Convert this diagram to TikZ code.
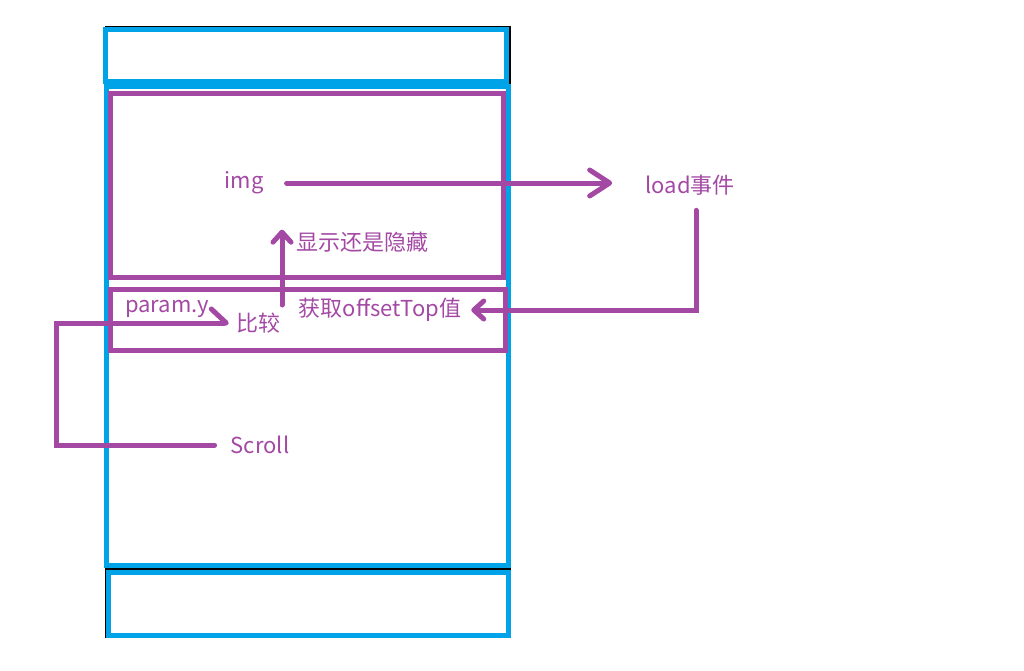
\documentclass[tikz,border=0pt]{standalone}
\usepackage{fontspec}
\setmainfont{Noto Sans CJK SC}
\usetikzlibrary{arrows.meta}
\definecolor{paintblue}{RGB}{0,162,232}
\definecolor{paintpurple}{RGB}{163,73,164}

\begin{document}
\begin{tikzpicture}[x=1pt,y=-1pt,
    frame/.style={draw=paintblue,line width=5pt},
    box/.style={draw=paintpurple,line width=5pt},
    flow/.style={paintpurple,line width=5pt,line cap=round},
    lbl/.style={text=paintpurple,font=\fontsize{22}{25}\selectfont,inner sep=2pt}]
  \useasboundingbox (0,0) rectangle (1024,671);
  % screen outline
  \draw[line width=1.5pt] (106,27) rectangle (510,637);
  \draw[line width=1.5pt] (106,569) -- (510,569);
  \draw[frame] (105.5,30) rectangle (506.5,82);
  \draw[frame] (106.5,86.5) rectangle (508.5,565.5);
  \draw[frame] (108.5,572.5) rectangle (508.5,635.5);
  \draw[box] (110,93.5) rectangle (503,277.5);
  \draw[box] (110.5,289.5) rectangle (505.5,350.5);
  % texts
  \node[lbl] (img) at (244,183) {img};
  \node[lbl] (load) at (690,185) {load事件};
  \node[lbl] (show) at (362,242) {显示还是隐藏};
  \node[lbl] (param) at (167,309) {param.y};
  \node[lbl] (cmp) at (258,323) {比较};
  \node[lbl] (get) at (380,310) {获取offsetTop值};
  \node[lbl] (scroll) at (260,445) {Scroll};
  \coordinate (turn) at (696,310);
  \coordinate (rise) at (282,305);
  % arrows
  \draw[flow,-{Straight Barb[round,length=20pt,width=26pt]},shorten <=21pt,shorten >=31pt]
    (img.east) -- (img.east -| load.west);
  \draw[flow,-{Straight Barb[round,length=10pt,width=18pt]},shorten <=13pt]
    (load.south -| turn) -- (turn) -- ([xshift=8pt]get.east);
  \draw[flow,-{Straight Barb[round,length=10pt,width=18pt]}] (rise) -- (rise |- show.north);
  \draw[flow,-{Straight Barb[round,harpoon,length=15pt,width=28pt]},shorten >=5pt]
    ([xshift=-14pt]scroll.west) -| (56,323) -- (cmp.west);
\end{tikzpicture}
\end{document}
